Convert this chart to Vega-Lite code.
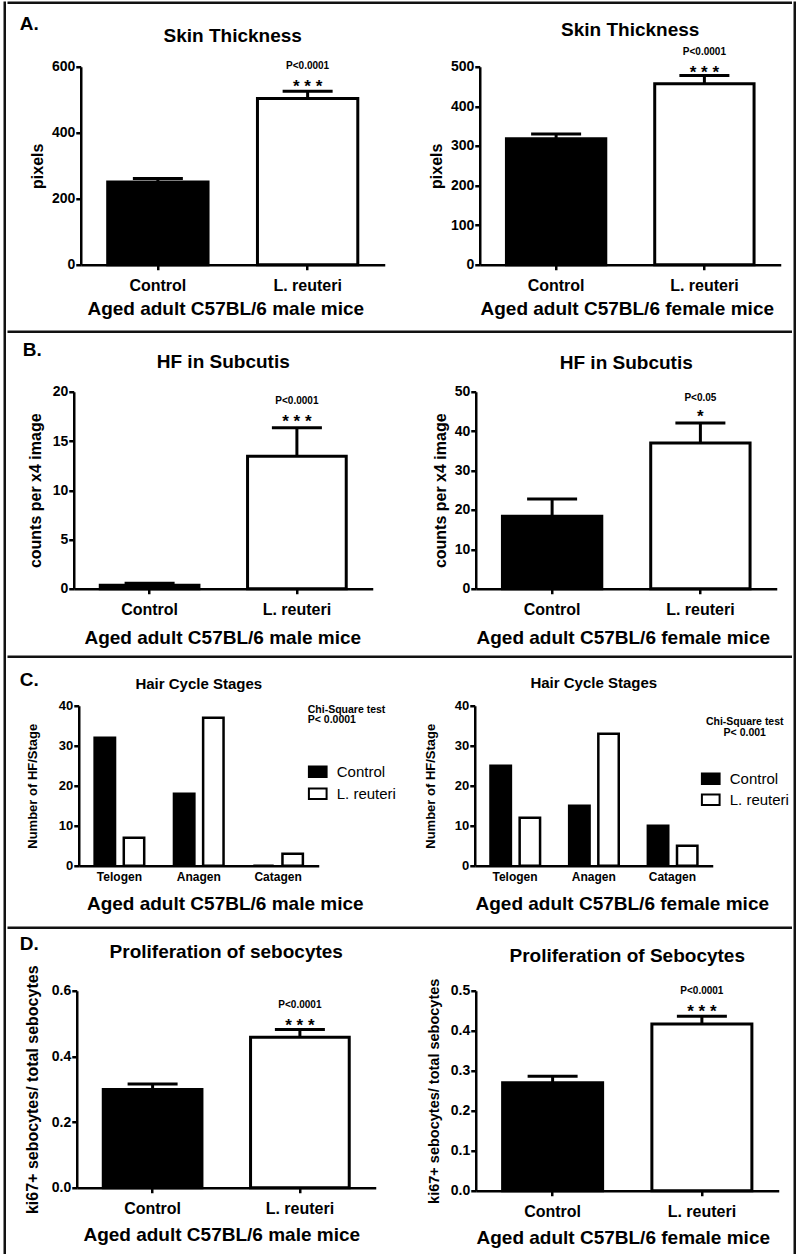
{
"$schema": "https://vega.github.io/schema/vega-lite/v6.json",
"background": "white",
"padding": {"left": 2.75, "top": 0.75, "right": 0, "bottom": 0},
"config": {
  "font": "Liberation Sans",
  "view": {"stroke": null},
  "title": {"fontSize": 19, "fontWeight": "bold", "color": "black", "font": "Liberation Sans", "baseline": "alphabetic"},
  "axis": {"grid": false, "labelOverlap": false, "domainColor": "black", "domainWidth": 2.5, "tickColor": "black", "tickWidth": 2.5, "tickSize": 5, "labelColor": "black", "titleColor": "black", "labelFontWeight": "bold", "titleFontWeight": "bold", "labelFont": "Liberation Sans", "titleFont": "Liberation Sans"},
  "axisX": {"labelAngle": 0, "labelFontSize": 16, "titleFontSize": 19, "labelPadding": 10, "titlePadding": 6},
  "axisY": {"labelFontSize": 14, "titleFontSize": 16, "labelPadding": 1, "titlePadding": 6},
  "legend": {"direction": "vertical", "padding": 0, "titleColor": "black", "titleBaseline": "top", "labelFontSize": 15, "labelFont": "Liberation Sans", "labelFontWeight": "normal", "labelColor": "black", "symbolType": "M-1,-0.6H1V0.6H-1Z", "symbolSize": 313, "symbolStrokeColor": "black", "symbolStrokeWidth": 2, "labelOffset": 9}
},
"spacing": 0,
"resolve": {"scale": {"fill": "independent"}, "legend": {"fill": "independent"}},
"hconcat": [
  {"width": 0.001, "height": 1250, "data": {"values": []}, "mark": "point", "view": {"stroke": "#111", "strokeWidth": 2.5}},
  {"spacing": 0,
   "resolve": {"scale": {"fill": "independent"}, "legend": {"fill": "independent"}},
   "vconcat": [
    {"width": 782, "height": 0.001, "data": {"values": []}, "mark": "point", "view": {"stroke": "#111", "strokeWidth": 2.5}},
    {"width": 1, "height": 9.25, "data": {"values": []}, "mark": "point"},
    {"spacing": 0,
     "resolve": {"scale": {"fill": "independent"}, "legend": {"fill": "independent"}},
     "title": {"text": "A.", "anchor": "start", "dx": 11, "offset": -13.7},
     "hconcat": [
      {"width": 19.75, "height": 1, "data": {"values": []}, "mark": "point"},
      {"width": 304, "height": 198,
       "title": {"text": "Skin Thickness", "offset": 14.1},
       "data": {"values": [
         {"group": "Control", "mean": 251, "upper": 261, "sig": "", "p": ""},
         {"group": "L. reuteri", "mean": 504, "upper": 526, "sig": "* * *", "p": "P<0.0001"}]},
       "encoding": {"x": {"field": "group", "type": "nominal", "sort": null, "scale": {"paddingInner": 0.33, "paddingOuter": 0.18}, "axis": {"title": "Aged adult C57BL/6 male mice", "labelPadding": 7.5, "titlePadding": 6.4, "titleX": 144.5}}},
       "layer": [
         {"mark": {"type": "bar", "stroke": "black", "strokeWidth": 3},
          "encoding": {"y": {"field": "mean", "type": "quantitative", "scale": {"domain": [0, 600], "nice": false}, "axis": {"values": [0, 200, 400, 600], "labelOverlap": false, "title": "pixels", "titlePadding": 6}},
                       "fill": {"field": "group", "type": "nominal", "scale": {"domain": ["Control", "L. reuteri"], "range": ["black", "white"]}, "legend": null}}},
         {"mark": {"type": "rule", "strokeWidth": 3, "color": "black"}, "encoding": {"y": {"field": "mean", "type": "quantitative", "axis": {"values": [0, 200, 400, 600], "labelOverlap": false, "title": "pixels", "titlePadding": 6}}, "y2": {"field": "upper"}}},
         {"mark": {"type": "tick", "thickness": 3, "size": 50, "color": "black", "opacity": 1}, "encoding": {"y": {"field": "upper", "type": "quantitative", "axis": {"values": [0, 200, 400, 600], "labelOverlap": false, "title": "pixels", "titlePadding": 6}}}},
         {"mark": {"type": "text", "fontSize": 17, "fontWeight": "bold", "baseline": "alphabetic", "dy": 0.5}, "encoding": {"y": {"field": "upper", "type": "quantitative", "axis": {"values": [0, 200, 400, 600], "labelOverlap": false, "title": "pixels", "titlePadding": 6}}, "text": {"field": "sig"}}},
         {"mark": {"type": "text", "fontSize": 10, "fontWeight": "bold", "baseline": "alphabetic", "dy": -22}, "encoding": {"y": {"field": "upper", "type": "quantitative", "axis": {"values": [0, 200, 400, 600], "labelOverlap": false, "title": "pixels", "titlePadding": 6}}, "text": {"field": "p"}}}
       ]},
      {"width": 43.75, "height": 1, "data": {"values": []}, "mark": "point"},
      {"width": 301, "height": 198,
       "title": {"text": "Skin Thickness", "offset": 7.7},
       "data": {"values": [
         {"group": "Control", "mean": 318, "upper": 330, "sig": "", "p": ""},
         {"group": "L. reuteri", "mean": 457, "upper": 478, "sig": "* * *", "p": "P<0.0001"}]},
       "encoding": {"x": {"field": "group", "type": "nominal", "sort": null, "scale": {"paddingInner": 0.33, "paddingOuter": 0.18}, "axis": {"title": "Aged adult C57BL/6 female mice", "labelPadding": 7.5, "titlePadding": 6.4, "titleX": 147}}},
       "layer": [
         {"mark": {"type": "bar", "stroke": "black", "strokeWidth": 3},
          "encoding": {"y": {"field": "mean", "type": "quantitative", "scale": {"domain": [0, 500], "nice": false}, "axis": {"values": [0, 100, 200, 300, 400, 500], "labelOverlap": false, "title": "pixels", "titlePadding": 5.6}},
                       "fill": {"field": "group", "type": "nominal", "scale": {"domain": ["Control", "L. reuteri"], "range": ["black", "white"]}, "legend": null}}},
         {"mark": {"type": "rule", "strokeWidth": 3, "color": "black"}, "encoding": {"y": {"field": "mean", "type": "quantitative", "axis": {"values": [0, 100, 200, 300, 400, 500], "labelOverlap": false, "title": "pixels", "titlePadding": 5.6}}, "y2": {"field": "upper"}}},
         {"mark": {"type": "tick", "thickness": 3, "size": 50, "color": "black", "opacity": 1}, "encoding": {"y": {"field": "upper", "type": "quantitative", "axis": {"values": [0, 100, 200, 300, 400, 500], "labelOverlap": false, "title": "pixels", "titlePadding": 5.6}}}},
         {"mark": {"type": "text", "fontSize": 17, "fontWeight": "bold", "baseline": "alphabetic", "dy": 2.5}, "encoding": {"y": {"field": "upper", "type": "quantitative", "axis": {"values": [0, 100, 200, 300, 400, 500], "labelOverlap": false, "title": "pixels", "titlePadding": 5.6}}, "text": {"field": "sig"}}},
         {"mark": {"type": "text", "fontSize": 10, "fontWeight": "bold", "baseline": "alphabetic", "dy": -20}, "encoding": {"y": {"field": "upper", "type": "quantitative", "axis": {"values": [0, 100, 200, 300, 400, 500], "labelOverlap": false, "title": "pixels", "titlePadding": 5.6}}, "text": {"field": "p"}}}
       ]}
     ]},
    {"width": 1, "height": 10.7, "data": {"values": []}, "mark": "point"},
    {"width": 782, "height": 0.001, "data": {"values": []}, "mark": "point", "view": {"stroke": "#111", "strokeWidth": 2.5}},
    {"width": 1, "height": 5.5, "data": {"values": []}, "mark": "point"},
    {"spacing": 0,
     "resolve": {"scale": {"fill": "independent"}, "legend": {"fill": "independent"}},
     "title": {"text": "B.", "anchor": "start", "dx": 14, "offset": -6.8},
     "hconcat": [
      {"width": 17.25, "height": 1, "data": {"values": []}, "mark": "point"},
      {"width": 299, "height": 197,
       "title": {"text": "HF in Subcutis", "offset": 13},
       "data": {"values": [
         {"group": "Control", "mean": 0.35, "upper": 0.57, "sig": "", "p": ""},
         {"group": "L. reuteri", "mean": 13.45, "upper": 16.35, "sig": "* * *", "p": "P<0.0001"}]},
       "encoding": {"x": {"field": "group", "type": "nominal", "sort": null, "scale": {"paddingInner": 0.33, "paddingOuter": 0.18}, "axis": {"title": "Aged adult C57BL/6 male mice", "labelPadding": 7.7, "titlePadding": 11.3, "titleX": 148.5}}},
       "layer": [
         {"mark": {"type": "bar", "stroke": "black", "strokeWidth": 3},
          "encoding": {"y": {"field": "mean", "type": "quantitative", "scale": {"domain": [0, 20], "nice": false}, "axis": {"values": [0, 5, 10, 15, 20], "labelOverlap": false, "title": "counts per x4 image", "titlePadding": 9}},
                       "fill": {"field": "group", "type": "nominal", "scale": {"domain": ["Control", "L. reuteri"], "range": ["black", "white"]}, "legend": null}}},
         {"mark": {"type": "rule", "strokeWidth": 3, "color": "black"}, "encoding": {"y": {"field": "mean", "type": "quantitative", "axis": {"values": [0, 5, 10, 15, 20], "labelOverlap": false, "title": "counts per x4 image", "titlePadding": 9}}, "y2": {"field": "upper"}}},
         {"mark": {"type": "tick", "thickness": 3, "size": 50, "color": "black", "opacity": 1}, "encoding": {"y": {"field": "upper", "type": "quantitative", "axis": {"values": [0, 5, 10, 15, 20], "labelOverlap": false, "title": "counts per x4 image", "titlePadding": 9}}}},
         {"mark": {"type": "text", "fontSize": 17, "fontWeight": "bold", "baseline": "alphabetic", "dy": -0.5}, "encoding": {"y": {"field": "upper", "type": "quantitative", "axis": {"values": [0, 5, 10, 15, 20], "labelOverlap": false, "title": "counts per x4 image", "titlePadding": 9}}, "text": {"field": "sig"}}},
         {"mark": {"type": "text", "fontSize": 10, "fontWeight": "bold", "baseline": "alphabetic", "dy": -23.4}, "encoding": {"y": {"field": "upper", "type": "quantitative", "axis": {"values": [0, 5, 10, 15, 20], "labelOverlap": false, "title": "counts per x4 image", "titlePadding": 9}}, "text": {"field": "p"}}}
       ]},
      {"width": 59.75, "height": 1, "data": {"values": []}, "mark": "point"},
      {"width": 301, "height": 197,
       "title": {"text": "HF in Subcutis", "offset": 12},
       "data": {"values": [
         {"group": "Control", "mean": 18.4, "upper": 22.8, "sig": "", "p": ""},
         {"group": "L. reuteri", "mean": 37.0, "upper": 42.1, "sig": "*", "p": "P<0.05"}]},
       "encoding": {"x": {"field": "group", "type": "nominal", "sort": null, "scale": {"paddingInner": 0.33, "paddingOuter": 0.18}, "axis": {"title": "Aged adult C57BL/6 female mice", "labelPadding": 7.7, "titlePadding": 11.3, "titleX": 147}}},
       "layer": [
         {"mark": {"type": "bar", "stroke": "black", "strokeWidth": 3},
          "encoding": {"y": {"field": "mean", "type": "quantitative", "scale": {"domain": [0, 50], "nice": false}, "axis": {"values": [0, 10, 20, 30, 40, 50], "labelOverlap": false, "title": "counts per x4 image", "titlePadding": 5.4}},
                       "fill": {"field": "group", "type": "nominal", "scale": {"domain": ["Control", "L. reuteri"], "range": ["black", "white"]}, "legend": null}}},
         {"mark": {"type": "rule", "strokeWidth": 3, "color": "black"}, "encoding": {"y": {"field": "mean", "type": "quantitative", "axis": {"values": [0, 10, 20, 30, 40, 50], "labelOverlap": false, "title": "counts per x4 image", "titlePadding": 5.4}}, "y2": {"field": "upper"}}},
         {"mark": {"type": "tick", "thickness": 3, "size": 50, "color": "black", "opacity": 1}, "encoding": {"y": {"field": "upper", "type": "quantitative", "axis": {"values": [0, 10, 20, 30, 40, 50], "labelOverlap": false, "title": "counts per x4 image", "titlePadding": 5.4}}}},
         {"mark": {"type": "text", "fontSize": 17, "fontWeight": "bold", "baseline": "alphabetic", "dy": -1}, "encoding": {"y": {"field": "upper", "type": "quantitative", "axis": {"values": [0, 10, 20, 30, 40, 50], "labelOverlap": false, "title": "counts per x4 image", "titlePadding": 5.4}}, "text": {"field": "sig"}}},
         {"mark": {"type": "text", "fontSize": 10, "fontWeight": "bold", "baseline": "alphabetic", "dy": -22.2}, "encoding": {"y": {"field": "upper", "type": "quantitative", "axis": {"values": [0, 10, 20, 30, 40, 50], "labelOverlap": false, "title": "counts per x4 image", "titlePadding": 5.4}}, "text": {"field": "p"}}}
       ]}
     ]},
    {"width": 1, "height": 6.15, "data": {"values": []}, "mark": "point"},
    {"width": 782, "height": 0.001, "data": {"values": []}, "mark": "point", "view": {"stroke": "#111", "strokeWidth": 2.5}},
    {"width": 1, "height": 11.55, "data": {"values": []}, "mark": "point"},
    {"spacing": 0,
     "resolve": {"scale": {"fill": "independent"}, "legend": {"fill": "independent"}},
     "title": {"text": "C.", "anchor": "start", "dx": 11, "offset": -14.5},
     "hconcat": [
      {"width": 16.75, "height": 1, "data": {"values": []}, "mark": "point"},
      {"width": 240, "height": 160,
       "title": {"text": "Hair Cycle Stages", "fontSize": 15, "frame": "group", "offset": 8.2},
       "data": {"values": [
         {"stage": "Telogen", "group": "Control", "count": 32},
         {"stage": "Telogen", "group": "L. reuteri", "count": 7},
         {"stage": "Anagen", "group": "Control", "count": 18},
         {"stage": "Anagen", "group": "L. reuteri", "count": 37},
         {"stage": "Catagen", "group": "Control", "count": 0},
         {"stage": "Catagen", "group": "L. reuteri", "count": 3}]},
       "mark": {"type": "bar", "stroke": "black", "strokeWidth": 2.5},
       "encoding": {
         "x": {"field": "stage", "type": "nominal", "sort": ["Telogen", "Anagen", "Catagen"], "scale": {"paddingInner": 0.375, "paddingOuter": 0.2}, "axis": {"title": "Aged adult C57BL/6 male mice", "labelFontSize": 12, "ticks": false, "tickSize": 0, "labelPadding": 6, "titlePadding": 12, "titleX": 146}},
         "xOffset": {"field": "group", "type": "nominal", "sort": ["Control", "L. reuteri"], "scale": {"paddingInner": 0.3, "paddingOuter": 0}},
         "y": {"field": "count", "type": "quantitative", "scale": {"domain": [0, 40], "nice": false}, "axis": {"values": [0, 10, 20, 30, 40], "labelOverlap": false, "title": "Number of HF/Stage", "titleFontSize": 13, "labelFontSize": 13, "titlePadding": 19}},
         "fill": {"field": "group", "type": "nominal", "scale": {"domain": ["Control", "L. reuteri"], "range": ["black", "white"]}, "legend": {"orient": "none", "legendX": 229, "legendY": -1, "title": ["Chi-Square test", "P< 0.0001"], "titleFontSize": 10.5, "titleFontWeight": "bold", "titleLineHeight": 10.5, "titleAnchor": "start", "titlePadding": 36, "rowPadding": 2}}
       }},
      {"width": 27.3, "height": 1, "data": {"values": []}, "mark": "point"},
      {"width": 238, "height": 160,
       "title": {"text": "Hair Cycle Stages", "fontSize": 15, "frame": "group", "offset": 8.9},
       "data": {"values": [
         {"stage": "Telogen", "group": "Control", "count": 25},
         {"stage": "Telogen", "group": "L. reuteri", "count": 12},
         {"stage": "Anagen", "group": "Control", "count": 15},
         {"stage": "Anagen", "group": "L. reuteri", "count": 33},
         {"stage": "Catagen", "group": "Control", "count": 10},
         {"stage": "Catagen", "group": "L. reuteri", "count": 5}]},
       "mark": {"type": "bar", "stroke": "black", "strokeWidth": 2.5},
       "encoding": {
         "x": {"field": "stage", "type": "nominal", "sort": ["Telogen", "Anagen", "Catagen"], "scale": {"paddingInner": 0.375, "paddingOuter": 0.2}, "axis": {"title": "Aged adult C57BL/6 female mice", "labelFontSize": 12, "ticks": false, "tickSize": 0, "labelPadding": 6, "titlePadding": 12, "titleX": 147}},
         "xOffset": {"field": "group", "type": "nominal", "sort": ["Control", "L. reuteri"], "scale": {"paddingInner": 0.3, "paddingOuter": 0}},
         "y": {"field": "count", "type": "quantitative", "scale": {"domain": [0, 40], "nice": false}, "axis": {"values": [0, 10, 20, 30, 40], "labelOverlap": false, "title": "Number of HF/Stage", "titleFontSize": 13, "labelFontSize": 13, "titlePadding": 16.5}},
         "fill": {"field": "group", "type": "nominal", "scale": {"domain": ["Control", "L. reuteri"], "range": ["black", "white"]}, "legend": {"orient": "none", "legendX": 226, "legendY": 11.5, "title": ["Chi-Square test", "P< 0.001"], "titleFontSize": 10.5, "titleFontWeight": "bold", "titleLineHeight": 10.5, "titleAnchor": "middle", "titlePadding": 30.5, "rowPadding": 1}}
       }}
     ]},
    {"width": 1, "height": 11.35, "data": {"values": []}, "mark": "point"},
    {"width": 782, "height": 0.001, "data": {"values": []}, "mark": "point", "view": {"stroke": "#111", "strokeWidth": 2.5}},
    {"width": 1, "height": 5, "data": {"values": []}, "mark": "point"},
    {"spacing": 0,
     "resolve": {"scale": {"fill": "independent"}, "legend": {"fill": "independent"}},
     "title": {"text": "D.", "anchor": "start", "dx": 11, "offset": -10.8},
     "hconcat": [
      {"width": 15.75, "height": 1, "data": {"values": []}, "mark": "point"},
      {"width": 299, "height": 197,
       "title": {"text": "Proliferation of sebocytes", "offset": 2.8},
       "data": {"values": [
         {"group": "Control", "mean": 0.299, "upper": 0.316, "sig": "", "p": ""},
         {"group": "L. reuteri", "mean": 0.458, "upper": 0.482, "sig": "* * *", "p": "P<0.0001"}]},
       "encoding": {"x": {"field": "group", "type": "nominal", "sort": null, "scale": {"paddingInner": 0.33, "paddingOuter": 0.18}, "axis": {"title": "Aged adult C57BL/6 male mice", "labelPadding": 7.5, "titlePadding": 9.4, "titleX": 144.5}}},
       "layer": [
         {"mark": {"type": "bar", "stroke": "black", "strokeWidth": 3},
          "encoding": {"y": {"field": "mean", "type": "quantitative", "scale": {"domain": [0, 0.6], "nice": false}, "axis": {"values": [0, 0.2, 0.4, 0.6], "labelOverlap": false, "format": ".1f", "title": "ki67+ sebocytes/ total sebocytes", "titlePadding": 10.5}},
                       "fill": {"field": "group", "type": "nominal", "scale": {"domain": ["Control", "L. reuteri"], "range": ["black", "white"]}, "legend": null}}},
         {"mark": {"type": "rule", "strokeWidth": 3, "color": "black"}, "encoding": {"y": {"field": "mean", "type": "quantitative", "axis": {"values": [0, 0.2, 0.4, 0.6], "labelOverlap": false, "format": ".1f", "title": "ki67+ sebocytes/ total sebocytes", "titlePadding": 10.5}}, "y2": {"field": "upper"}}},
         {"mark": {"type": "tick", "thickness": 3, "size": 50, "color": "black", "opacity": 1}, "encoding": {"y": {"field": "upper", "type": "quantitative", "axis": {"values": [0, 0.2, 0.4, 0.6], "labelOverlap": false, "format": ".1f", "title": "ki67+ sebocytes/ total sebocytes", "titlePadding": 10.5}}}},
         {"mark": {"type": "text", "fontSize": 17, "fontWeight": "bold", "baseline": "alphabetic", "dy": 1.5}, "encoding": {"y": {"field": "upper", "type": "quantitative", "axis": {"values": [0, 0.2, 0.4, 0.6], "labelOverlap": false, "format": ".1f", "title": "ki67+ sebocytes/ total sebocytes", "titlePadding": 10.5}}, "text": {"field": "sig"}}},
         {"mark": {"type": "text", "fontSize": 10, "fontWeight": "bold", "baseline": "alphabetic", "dy": -21.3}, "encoding": {"y": {"field": "upper", "type": "quantitative", "axis": {"values": [0, 0.2, 0.4, 0.6], "labelOverlap": false, "format": ".1f", "title": "ki67+ sebocytes/ total sebocytes", "titlePadding": 10.5}}, "text": {"field": "p"}}}
       ]},
      {"width": 50.25, "height": 1, "data": {"values": []}, "mark": "point"},
      {"width": 303, "height": 200,
       "title": {"text": "Proliferation of Sebocytes", "offset": 11.9},
       "data": {"values": [
         {"group": "Control", "mean": 0.27, "upper": 0.286, "sig": "", "p": ""},
         {"group": "L. reuteri", "mean": 0.417, "upper": 0.436, "sig": "* * *", "p": "P<0.0001"}]},
       "encoding": {"x": {"field": "group", "type": "nominal", "sort": null, "scale": {"paddingInner": 0.33, "paddingOuter": 0.18}, "axis": {"title": "Aged adult C57BL/6 female mice", "labelPadding": 7.5, "titlePadding": 9.4, "titleX": 147}}},
       "layer": [
         {"mark": {"type": "bar", "stroke": "black", "strokeWidth": 3},
          "encoding": {"y": {"field": "mean", "type": "quantitative", "scale": {"domain": [0, 0.5], "nice": false}, "axis": {"values": [0, 0.1, 0.2, 0.3, 0.4, 0.5], "labelOverlap": false, "format": ".1f", "title": "ki67+ sebocytes/ total sebocytes", "titleFontSize": 14.5, "titlePadding": 8.5}},
                       "fill": {"field": "group", "type": "nominal", "scale": {"domain": ["Control", "L. reuteri"], "range": ["black", "white"]}, "legend": null}}},
         {"mark": {"type": "rule", "strokeWidth": 3, "color": "black"}, "encoding": {"y": {"field": "mean", "type": "quantitative", "axis": {"values": [0, 0.1, 0.2, 0.3, 0.4, 0.5], "labelOverlap": false, "format": ".1f", "title": "ki67+ sebocytes/ total sebocytes", "titleFontSize": 14.5, "titlePadding": 8.5}}, "y2": {"field": "upper"}}},
         {"mark": {"type": "tick", "thickness": 3, "size": 50, "color": "black", "opacity": 1}, "encoding": {"y": {"field": "upper", "type": "quantitative", "axis": {"values": [0, 0.1, 0.2, 0.3, 0.4, 0.5], "labelOverlap": false, "format": ".1f", "title": "ki67+ sebocytes/ total sebocytes", "titleFontSize": 14.5, "titlePadding": 8.5}}}},
         {"mark": {"type": "text", "fontSize": 17, "fontWeight": "bold", "baseline": "alphabetic", "dy": 0.7}, "encoding": {"y": {"field": "upper", "type": "quantitative", "axis": {"values": [0, 0.1, 0.2, 0.3, 0.4, 0.5], "labelOverlap": false, "format": ".1f", "title": "ki67+ sebocytes/ total sebocytes", "titleFontSize": 14.5, "titlePadding": 8.5}}, "text": {"field": "sig"}}},
         {"mark": {"type": "text", "fontSize": 10, "fontWeight": "bold", "baseline": "alphabetic", "dy": -22}, "encoding": {"y": {"field": "upper", "type": "quantitative", "axis": {"values": [0, 0.1, 0.2, 0.3, 0.4, 0.5], "labelOverlap": false, "format": ".1f", "title": "ki67+ sebocytes/ total sebocytes", "titleFontSize": 14.5, "titlePadding": 8.5}}, "text": {"field": "p"}}}
       ]}
     ]},
    {"width": 1, "height": 10.15, "data": {"values": []}, "mark": "point"},
    {"width": 782, "height": 0.001, "data": {"values": []}, "mark": "point", "view": {"stroke": "#111", "strokeWidth": 2.5}}
  ]},
  {"width": 0.001, "height": 1250, "data": {"values": []}, "mark": "point", "view": {"stroke": "#111", "strokeWidth": 2.5}}
]
}
